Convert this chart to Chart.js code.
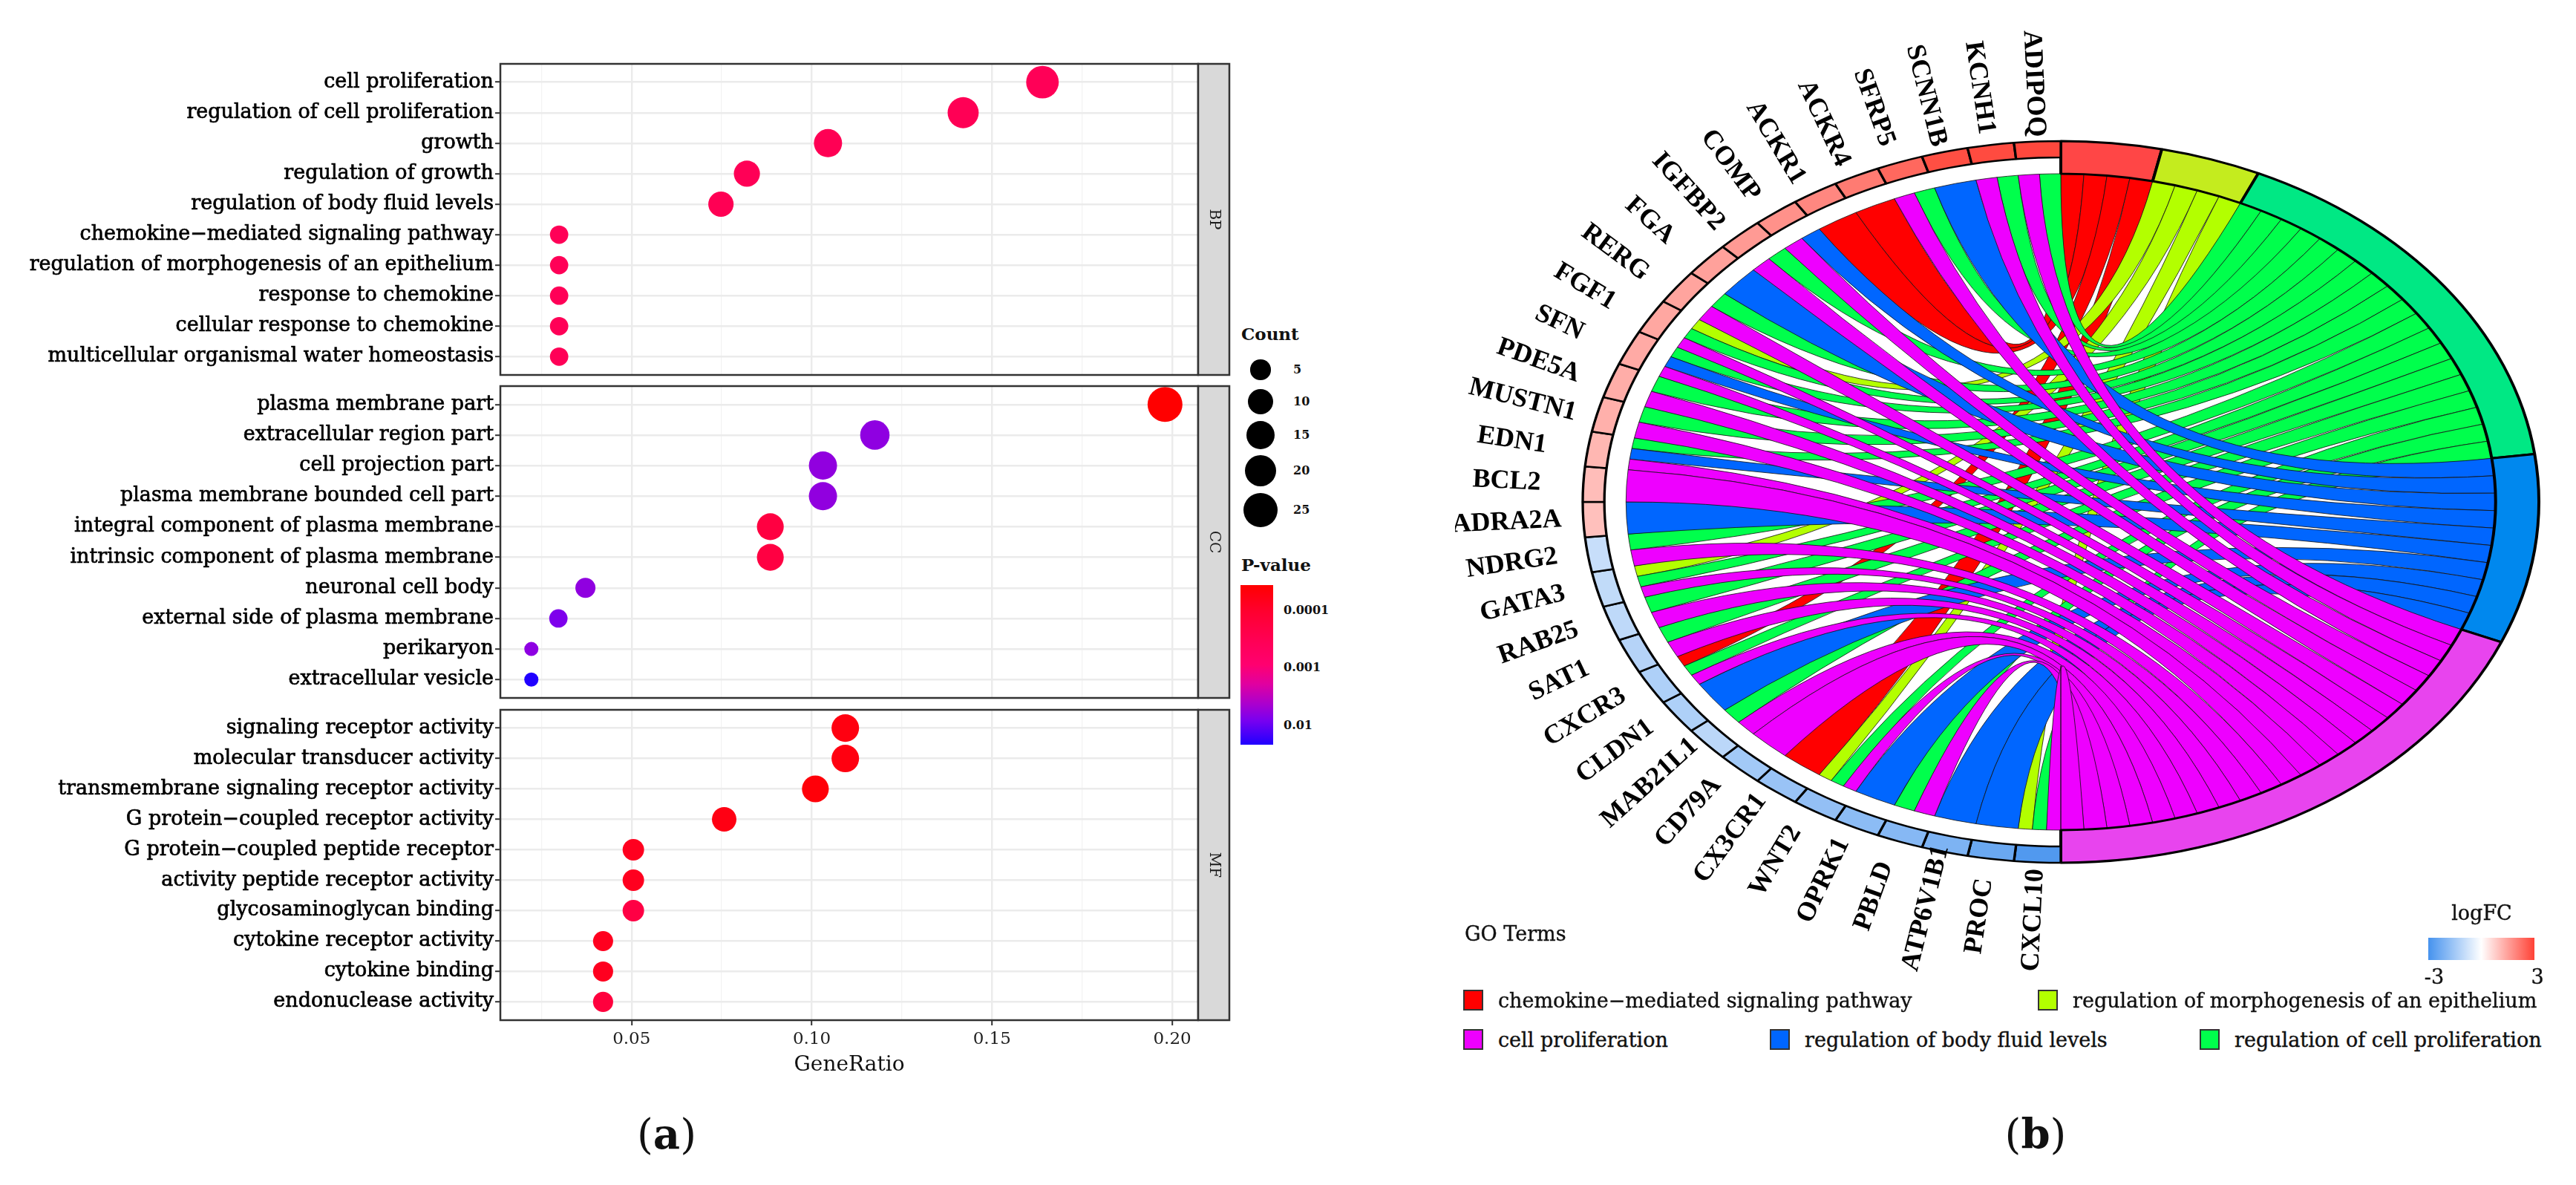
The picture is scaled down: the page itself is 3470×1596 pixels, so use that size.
<!DOCTYPE html>
<html>
<head>
<meta charset="utf-8">
<script src="https://cdn.jsdelivr.net/npm/chart.js@4.4.1/dist/chart.umd.min.js"></script>
<style>
  body { margin: 0; background: #fff; width: 3470px; height: 1596px; position: relative; overflow: hidden;
         font-family: "DejaVu Serif", serif; color: #111; }
  canvas { position: absolute; }
  .t { position: absolute; white-space: nowrap; line-height: 1; }
  .box { position: absolute; box-sizing: border-box; }
</style>
</head>
<body>
<canvas id="bp" width="1660" height="423" style="left:0;top:84px"></canvas>
<canvas id="cc" width="1660" height="424" style="left:0;top:518px"></canvas>
<canvas id="mf" width="1660" height="502" style="left:0;top:954px"></canvas>
<canvas id="chordTerms" width="1510" height="1352" style="left:1960px;top:0"></canvas>
<canvas id="chordGenes" width="1510" height="1352" style="left:1960px;top:0"></canvas>
<script>
// ---------- panel (a): GO enrichment dot plot ----------
const bpTerms = ["cell proliferation", "regulation of cell proliferation", "growth", "regulation of growth",
  "regulation of body fluid levels", "chemokine−mediated signaling pathway",
  "regulation of morphogenesis of an epithelium", "response to chemokine",
  "cellular response to chemokine", "multicellular organismal water homeostasis"];
const bpRatio = [0.164, 0.142, 0.1045, 0.082, 0.0748, 0.0299, 0.0299, 0.0299, 0.0299, 0.0299];
const bpCount = [22, 19, 14, 11, 10, 4, 4, 4, 4, 4];
const bpPvalue = [3.7e-4, 3.4e-4, 3.3e-4, 3.5e-4, 3.3e-4, 3.6e-4, 3.6e-4, 3.6e-4, 3.6e-4, 3.6e-4];

const ccTerms = ["plasma membrane part", "extracellular region part", "cell projection part",
  "plasma membrane bounded cell part", "integral component of plasma membrane",
  "intrinsic component of plasma membrane", "neuronal cell body", "external side of plasma membrane",
  "perikaryon", "extracellular vesicle"];
const ccRatio = [0.198, 0.1175, 0.1031, 0.1031, 0.0885, 0.0885, 0.0372, 0.0297, 0.0222, 0.0222];
const ccCount = [27, 16, 14, 14, 12, 12, 5, 4, 3, 3];
const ccPvalue = [3.6e-5, 6.2e-3, 6.0e-3, 6.0e-3, 1.8e-4, 1.9e-4, 6.1e-3, 7.8e-3, 6.3e-3, 2.2e-2];

const mfTerms = ["signaling receptor activity", "molecular transducer activity",
  "transmembrane signaling receptor activity", "G protein−coupled receptor activity",
  "G protein−coupled peptide receptor", "activity peptide receptor activity",
  "glycosaminoglycan binding", "cytokine receptor activity", "cytokine binding", "endonuclease activity"];
const mfRatio = [0.1093, 0.1093, 0.101, 0.0757, 0.0505, 0.0505, 0.0505, 0.0421, 0.0421, 0.0421];
const mfCount = [13, 13, 12, 9, 6, 6, 6, 5, 5, 5];
const mfPvalue = [5.2e-5, 5.2e-5, 4.4e-5, 5.6e-5, 7.2e-5, 7.2e-5, 2.0e-4, 7.2e-5, 7.2e-5, 1.6e-4];

const xMajor = [0.05, 0.10, 0.15, 0.20];
const xTickLabels = ["0.05", "0.10", "0.15", "0.20"];
const xMinor = [0.025, 0.075, 0.125, 0.175];
const countBreaks = [5, 10, 15, 20, 25];
const pBreaks = [0.0001, 0.001, 0.01];
const pBreakLabels = ["0.0001", "0.001", "0.01"];

// ---------- panel (b): GO chord ----------
const genes = ["ADIPOQ", "KCNH1", "SCNN1B", "SFRP5", "ACKR4", "ACKR1", "COMP", "IGFBP2", "FGA", "RERG",
  "FGF1", "SFN", "PDE5A", "MUSTN1", "EDN1", "BCL2", "ADRA2A", "NDRG2", "GATA3", "RAB25", "SAT1",
  "CXCR3", "CLDN1", "MAB21L1", "CD79A", "CX3CR1", "WNT2", "OPRK1", "PBLD", "ATP6V1B1", "PROC", "CXCL10"];
const geneLogFC = [2.9, 2.85, 2.8, 2.4, 2.1, 1.9, 1.75, 1.6, 1.5, 1.45, 1.4, 1.35, 1.3, 1.25, 1.15, 1.05, 1.0,
  -0.9, -1.0, -1.05, -1.2, -1.3, -1.3, -1.1, -1.5, -1.65, -1.75, -1.85, -1.95, -2.1, -2.4, -2.8];
const goTerms = ["chemokine−mediated signaling pathway", "regulation of morphogenesis of an epithelium",
  "regulation of cell proliferation", "regulation of body fluid levels", "cell proliferation"];
const chemokineGenes = ["ACKR4", "ACKR1", "CXCR3", "CX3CR1"];
const morphogenesisGenes = ["FGF1", "GATA3", "WNT2", "CXCL10"];
const regProliferationGenes = ["ADIPOQ", "KCNH1", "SFRP5", "IGFBP2", "RERG", "FGF1", "SFN", "PDE5A", "MUSTN1",
  "EDN1", "NDRG2", "GATA3", "RAB25", "SAT1", "CXCR3", "MAB21L1", "WNT2", "PBLD", "CXCL10"];
const bodyFluidGenes = ["SCNN1B", "COMP", "FGA", "SFN", "EDN1", "ADRA2A", "CLDN1", "OPRK1", "ATP6V1B1", "PROC"];
const proliferationGenes = ["ADIPOQ", "KCNH1", "SFRP5", "COMP", "IGFBP2", "RERG", "FGF1", "SFN", "PDE5A",
  "MUSTN1", "EDN1", "BCL2", "NDRG2", "GATA3", "RAB25", "SAT1", "CXCR3", "MAB21L1", "CD79A", "WNT2", "PBLD", "CXCL10"];
const termGenes = [chemokineGenes, morphogenesisGenes, regProliferationGenes, bodyFluidGenes, proliferationGenes];

// ---------- styles ----------
const ribbonColors = ["#ff0000", "#b3ff00", "#00ff4c", "#0066ff", "#ee00ff"];
const ringColors = ["#ff4646", "#c4ec1e", "#00e884", "#0088ee", "#e844ee"];
const lfcLow = "#4592ee", lfcHigh = "#ff4236";
const pStops = [[0, "#ff0000"], [0.17, "#ff0030"], [0.35, "#ff0055"], [0.5, "#ff0070"],
  [0.62, "#e000a0"], [0.75, "#a800d0"], [0.85, "#7800f0"], [1, "#2000ff"]];
const SX = 644 / 486;            // chord panel is drawn stretched into an ellipse
const RING_OUT = 486, GENE_IN = 464, RIBBON_R = 442, LABEL_R = 564;

Chart.defaults.font.family = '"DejaVu Serif", serif';
Chart.defaults.color = "#222";

function hex(c) { return [1, 3, 5].map(i => parseInt(c.slice(i, i + 2), 16)); }
function mix(c1, c2, f) {
  const a = hex(c1), b = hex(c2);
  return "rgb(" + a.map((v, i) => Math.round(v + (b[i] - v) * f)).join(",") + ")";
}

// colour scale for P-value (log10), limits taken from the data
const allP = bpPvalue.concat(ccPvalue, mfPvalue);
const lpMin = Math.log10(Math.min(...allP)), lpMax = Math.log10(Math.max(...allP));
function pFrac(p) { return (Math.log10(p) - lpMin) / (lpMax - lpMin); }
function pColor(p) {
  const t = Math.min(Math.max(pFrac(p), 0), 1);
  for (let i = 1; i < pStops.length; i++) {
    if (t <= pStops[i][0]) {
      const f = (t - pStops[i - 1][0]) / (pStops[i][0] - pStops[i - 1][0]);
      return mix(pStops[i - 1][1], pStops[i][1], f);
    }
  }
  return pStops[pStops.length - 1][1];
}

// size scale for Count (ggplot area palette)
const allCount = bpCount.concat(ccCount, mfCount);
const cMin = Math.min(...allCount), cMax = Math.max(...allCount);
function dotRadius(c) { return 9.5 + 14 * Math.sqrt((c - cMin) / (cMax - cMin)); }

function lfcColor(v) {
  const t = Math.max(-1, Math.min(1, v / 3));
  return t >= 0 ? mix("#ffffff", lfcHigh, t) : mix("#ffffff", lfcLow, -t);
}

const isMajor = v => xMajor.some(m => Math.abs(m - v) < 1e-9);

// panel frame + facet strip
function facetFrame(strip) {
  return {
    id: "frame",
    afterDraw(chart) {
      const { ctx, chartArea: a } = chart;
      ctx.save();
      ctx.strokeStyle = "#333";
      ctx.lineWidth = 2.5;
      ctx.strokeRect(a.left, a.top, a.right - a.left, a.bottom - a.top);
      ctx.fillStyle = "#d9d9d9";
      ctx.fillRect(a.right, a.top, 42, a.bottom - a.top);
      ctx.strokeRect(a.right, a.top, 42, a.bottom - a.top);
      ctx.translate(a.right + 21, (a.top + a.bottom) / 2);
      ctx.rotate(Math.PI / 2);
      ctx.fillStyle = "#1a1a1a";
      ctx.font = '20px "DejaVu Serif"';
      ctx.textAlign = "center";
      ctx.textBaseline = "middle";
      ctx.fillText(strip, 0, 0);
      ctx.restore();
    }
  };
}

function facetChart(id, terms, ratio, count, pvalue, strip, showX) {
  return new Chart(document.getElementById(id), {
    type: "bubble",
    data: {
      datasets: [{
        data: terms.map((t, i) => ({ x: ratio[i], y: i + 1, r: dotRadius(count[i]) })),
        backgroundColor: pvalue.map(pColor),
        borderWidth: 0
      }]
    },
    options: {
      responsive: false,
      animation: false,
      events: [],
      devicePixelRatio: 1,
      layout: { autoPadding: false, padding: { top: 2, right: 46, bottom: showX ? 0 : 2, left: 0 } },
      plugins: { legend: { display: false }, tooltip: { enabled: false } },
      scales: {
        x: {
          type: "linear", min: 0.0136, max: 0.2072,
          afterBuildTicks: s => { s.ticks = xMinor.concat(xMajor).sort((a, b) => a - b).map(v => ({ value: v })); },
          afterFit: s => { s.height = showX ? 82 : 0; s.paddingLeft = 0; s.paddingRight = 0; },
          border: { display: false },
          grid: {
            color: c => isMajor(c.tick.value) ? "#ebebeb" : "#f3f3f3",
            lineWidth: c => isMajor(c.tick.value) ? 2.4 : 1.3,
            drawTicks: showX, tickLength: 7, tickWidth: 2,
            tickColor: c => isMajor(c.tick.value) ? "#333" : "rgba(0,0,0,0)"
          },
          ticks: {
            display: showX, padding: 5, maxRotation: 0, autoSkip: false,
            font: { size: 23 }, color: "#222",
            callback: v => { const i = xMajor.findIndex(m => Math.abs(m - v) < 1e-9); return i < 0 ? "" : xTickLabels[i]; }
          },
          title: { display: showX, text: "GeneRatio", font: { size: 28 }, color: "#111", padding: { top: 0, bottom: 4 } }
        },
        y: {
          type: "linear", reverse: true, min: 0.4, max: terms.length + 0.6,
          afterBuildTicks: s => { s.ticks = terms.map((t, i) => ({ value: i + 1 })); },
          afterFit: s => { s.width = 674; s.paddingTop = 0; s.paddingBottom = 0; },
          border: { display: false },
          grid: { color: "#ebebeb", lineWidth: 2.4, tickColor: "#333", tickLength: 7, tickWidth: 2 },
          ticks: {
            autoSkip: false, padding: 2, font: { size: 27 }, color: "#000",
            textStrokeColor: "#000", textStrokeWidth: 0.7,
            callback: v => terms[v - 1]
          }
        }
      }
    },
    plugins: [facetFrame(strip)]
  });
}

facetChart("bp", bpTerms, bpRatio, bpCount, bpPvalue, "BP", false);
facetChart("cc", ccTerms, ccRatio, ccCount, ccPvalue, "CC", false);
facetChart("mf", mfTerms, mfRatio, mfCount, mfPvalue, "MF", true);

// ---------- chord ----------
const termCounts = termGenes.map(l => l.length);
const totalLinks = termCounts.reduce((a, b) => a + b, 0);
const geneOrder = genes.slice().reverse();   // clockwise from the bottom
const ringValues = geneOrder.map(() => totalLinks / genes.length).concat(termCounts);
const nG = genes.length;

function ellipsePlugin(drawRibbons) {
  return {
    id: "ellipse",
    beforeDatasetsDraw(chart) {
      const ctx = chart.ctx;
      const arcs = chart.getDatasetMeta(0).data;
      const cx = arcs[0].x, cy = arcs[0].y;
      ctx.save();
      ctx.translate(cx, cy); ctx.scale(SX, 1); ctx.translate(-cx, -cy);
      if (!drawRibbons) return;
      const R = arcs[0].innerRadius;
      const pt = a => [cx + R * Math.cos(a), cy + R * Math.sin(a)];
      termGenes.forEach((list, k) => {
        const tArc = arcs[nG + k];
        const tw = (tArc.endAngle - tArc.startAngle) / list.length;
        const order = list.map(g => genes.indexOf(g)).sort((a, b) => a - b);
        order.forEach((gi, j) => {
          const gArc = arcs[nG - 1 - gi];
          const mine = termGenes.map((l, kk) => l.includes(genes[gi]) ? kk : -1).filter(v => v >= 0);
          const gw = (gArc.endAngle - gArc.startAngle) / mine.length;
          const a2 = gArc.endAngle - mine.indexOf(k) * gw, a1 = a2 - gw;
          const b1 = tArc.startAngle + j * tw, b2 = b1 + tw;
          const p1 = pt(a1), q1 = pt(b1);
          ctx.beginPath();
          ctx.moveTo(p1[0], p1[1]);
          ctx.arc(cx, cy, R, a1, a2);
          ctx.quadraticCurveTo(cx, cy, q1[0], q1[1]);
          ctx.arc(cx, cy, R, b1, b2);
          ctx.quadraticCurveTo(cx, cy, p1[0], p1[1]);
          ctx.closePath();
          ctx.fillStyle = ribbonColors[k];
          ctx.fill();
          ctx.lineWidth = 0.7;
          ctx.strokeStyle = "#111";
          ctx.stroke();
        });
      });
    },
    afterDatasetsDraw(chart) { chart.ctx.restore(); }
  };
}

const geneLabels = {
  id: "geneLabels",
  afterDraw(chart) {
    const ctx = chart.ctx;
    const arcs = chart.getDatasetMeta(0).data;
    ctx.save();
    ctx.font = 'bold 36px "Liberation Serif"';
    ctx.fillStyle = "#000";
    ctx.textAlign = "center";
    ctx.textBaseline = "middle";
    genes.forEach((g, gi) => {
      const arc = arcs[nG - 1 - gi];
      const a = (arc.startAngle + arc.endAngle) / 2;
      ctx.save();
      ctx.translate(arc.x + SX * LABEL_R * Math.cos(a), arc.y + LABEL_R * Math.sin(a));
      ctx.rotate(a + Math.PI);
      ctx.fillText(g, 0, 0);
      ctx.restore();
    });
    ctx.restore();
  }
};

function ringOptions(inner) {
  return {
    responsive: false, animation: false, events: [], devicePixelRatio: 1,
    rotation: 180, circumference: 360,
    radius: RING_OUT, cutout: (inner / RING_OUT * 100).toFixed(3) + "%",
    layout: { padding: { left: 122 } },
    plugins: { legend: { display: false }, tooltip: { enabled: false } }
  };
}

new Chart(document.getElementById("chordTerms"), {
  type: "doughnut",
  data: {
    labels: geneOrder.concat(goTerms),
    datasets: [{
      data: ringValues, clip: false,
      backgroundColor: geneOrder.map(() => "rgba(0,0,0,0)").concat(ringColors),
      borderColor: "#000",
      borderWidth: geneOrder.map(() => 0).concat(goTerms.map(() => 3))
    }]
  },
  options: ringOptions(RIBBON_R),
  plugins: [ellipsePlugin(true)]
});

new Chart(document.getElementById("chordGenes"), {
  type: "doughnut",
  data: {
    labels: geneOrder.concat(goTerms),
    datasets: [{
      data: ringValues, clip: false,
      backgroundColor: geneOrder.map(g => lfcColor(geneLogFC[genes.indexOf(g)])).concat(goTerms.map(() => "rgba(0,0,0,0)")),
      borderColor: "#000",
      borderWidth: geneOrder.map(() => 2.5).concat(goTerms.map(() => 0))
    }]
  },
  options: ringOptions(GENE_IN),
  plugins: [ellipsePlugin(false), geneLabels]
});

// ---------- html legends and titles ----------
function text(str, x, y, css, anchor) {
  const d = document.createElement("div");
  d.className = "t";
  d.textContent = str;
  d.style.cssText += css;
  d.style.left = x + "px";
  d.style.top = y + "px";
  const tx = anchor === "center" ? "-50%" : anchor === "right" ? "-100%" : "0";
  d.style.transform = "translate(" + tx + ",-50%)";
  document.body.appendChild(d);
  return d;
}
function box(x, y, w, h, css) {
  const d = document.createElement("div");
  d.className = "box";
  d.style.cssText += "left:" + x + "px;top:" + y + "px;width:" + w + "px;height:" + h + "px;" + css;
  document.body.appendChild(d);
}

// Count legend
text("Count", 1672, 449, "font-size:23px;font-weight:bold;");
const countY = [498, 541, 586, 634, 687];
countBreaks.forEach((c, i) => {
  const r = dotRadius(c);
  box(1698 - r, countY[i] - r, 2 * r, 2 * r, "background:#000;border-radius:50%;");
  text(String(c), 1742, countY[i], "font-size:16px;font-weight:bold;");
});

// P-value legend
text("P-value", 1672, 760, "font-size:23px;font-weight:bold;");
const barTop = 788, barH = 215;
box(1671, barTop, 44, barH, "background:linear-gradient(to bottom," +
  pStops.map(s => s[1] + " " + (s[0] * 100) + "%").join(",") + ");");
pBreaks.forEach((p, i) => {
  text(pBreakLabels[i], 1729, barTop + pFrac(p) * barH, "font-size:16px;font-weight:bold;");
});

text("(", 898, 1527, "font-size:56px;", "center").innerHTML = "(<b>a</b>)";

// chord legends
const legendText = "font-size:27px;-webkit-text-stroke:0.4px #111;";
text("GO Terms", 1973, 1257, legendText);
const legendPos = [[1971, 1347], [2745, 1347], [2963, 1400], [2384, 1400], [1971, 1400]];
goTerms.forEach((t, k) => {
  const [x, y] = legendPos[k];
  box(x, y - 14, 27, 28, "background:" + ribbonColors[k] + ";border:2px solid #333;");
  text(t, x + 47, y, legendText);
});
text("logFC", 3343, 1229, legendText, "center");
box(3271, 1263, 143, 30, "background:linear-gradient(to right," + lfcLow + ",#ffffff," + lfcHigh + ");");
text("-3", 3279, 1315, legendText, "center");
text("3", 3418, 1315, legendText, "center");
text("(", 2742, 1527, "font-size:56px;", "center").innerHTML = "(<b>b</b>)";
</script>
</body>
</html>
